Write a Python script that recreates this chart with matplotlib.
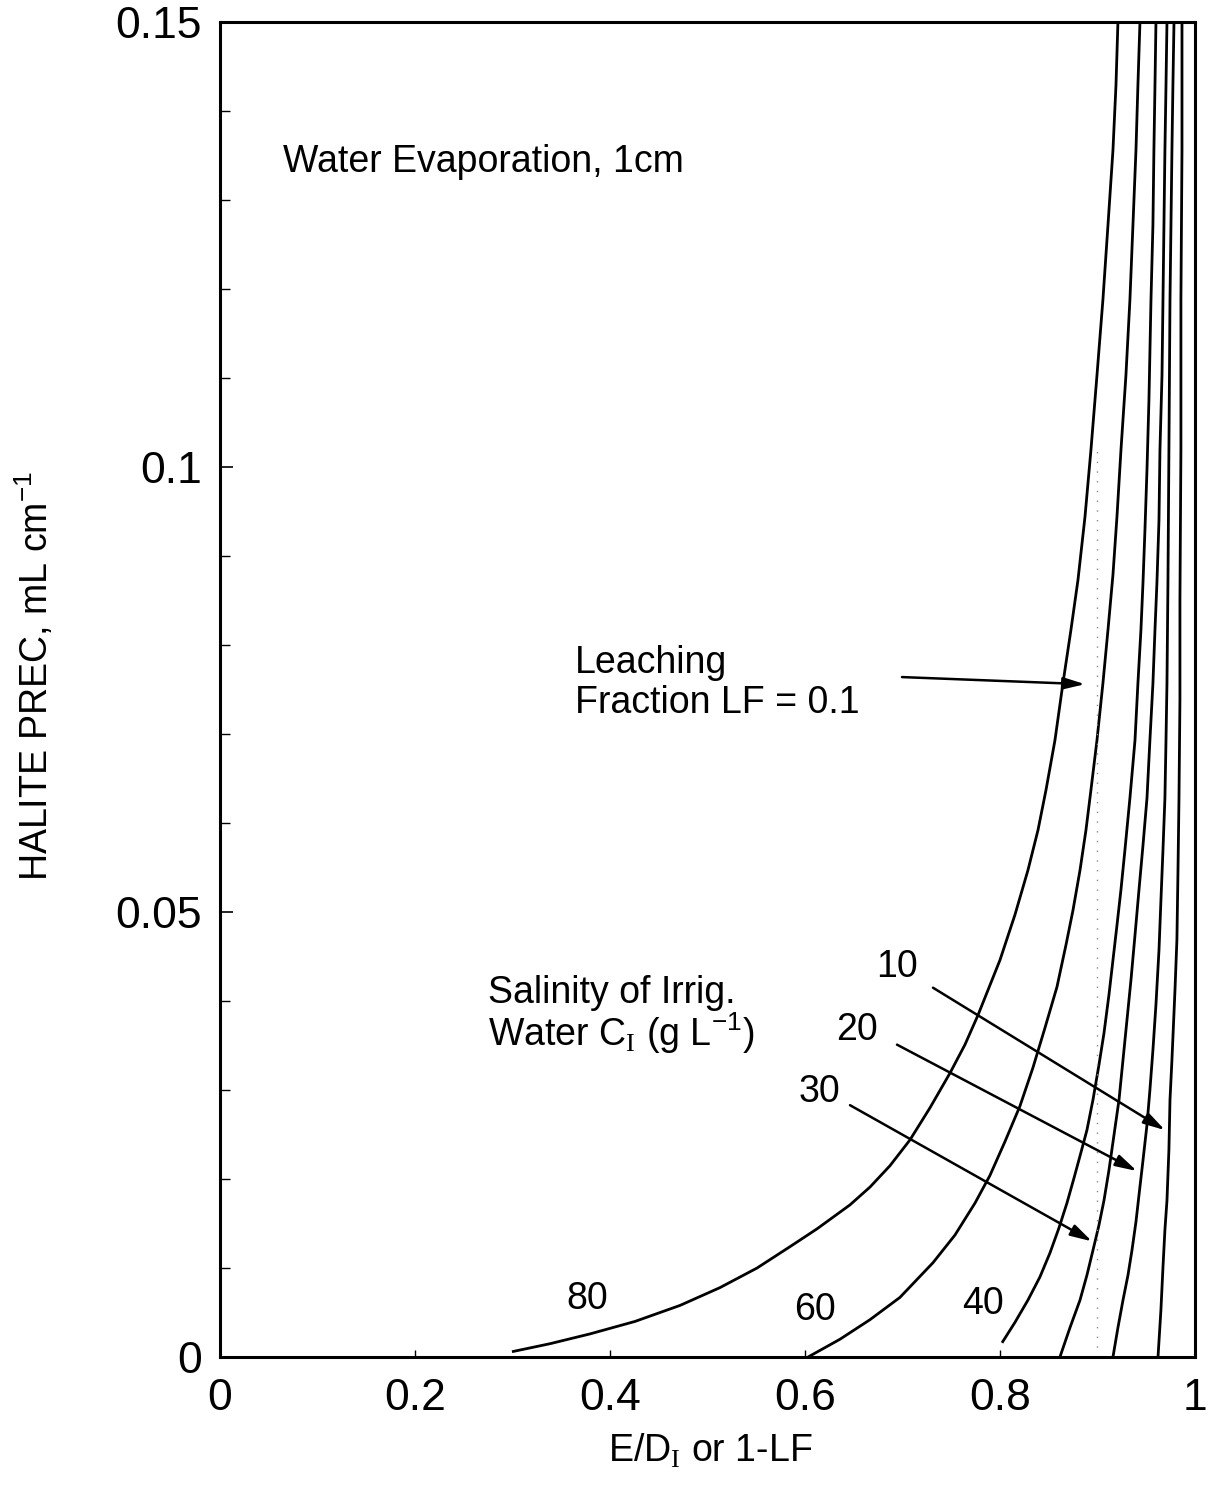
import matplotlib
matplotlib.use("Agg")
import matplotlib.pyplot as plt
import numpy as np

plt.rcParams["font.family"] = ["Liberation Sans", "DejaVu Sans"]
plt.rcParams["mathtext.fontset"] = "custom"
plt.rcParams["mathtext.rm"] = "Liberation Serif"
plt.rcParams["mathtext.sf"] = "Liberation Sans"

# Halite precipitation (mL per cm of evaporated water) versus E/D_I,
# one curve per irrigation-water salinity C_I (g/L)
salinity = [80, 60, 40, 30, 20, 10]

x_80 = [0.2995, 0.3385, 0.3795, 0.4256, 0.4718, 0.5128, 0.5508, 0.5846, 0.6123,
        0.6462, 0.6667, 0.6872, 0.7077, 0.7282, 0.7487, 0.7641, 0.7774, 0.8000,
        0.8154, 0.8287, 0.8390, 0.8472, 0.8564, 0.8646, 0.8728, 0.8800, 0.8872,
        0.8933, 0.8995, 0.9056, 0.9108, 0.9159, 0.9190, 0.9210]
y_80 = [0.0006, 0.0015, 0.0026, 0.0040, 0.0058, 0.0078, 0.0100, 0.0124, 0.0144,
        0.0171, 0.0191, 0.0215, 0.0244, 0.0280, 0.0319, 0.0351, 0.0384, 0.0446,
        0.0497, 0.0547, 0.0592, 0.0637, 0.0693, 0.0757, 0.0817, 0.0873, 0.0944,
        0.1019, 0.1103, 0.1188, 0.1272, 0.1356, 0.1429, 0.1500]

x_60 = [0.6031, 0.6359, 0.6667, 0.6974, 0.7313, 0.7538, 0.7744, 0.7897, 0.8051,
        0.8205, 0.8338, 0.8462, 0.8585, 0.8677, 0.8749, 0.8821, 0.8882, 0.8933,
        0.8995, 0.9056, 0.9108, 0.9159, 0.9200, 0.9241, 0.9292, 0.9333, 0.9364,
        0.9395, 0.9415, 0.9436]
y_60 = [0.0000, 0.0020, 0.0042, 0.0067, 0.0106, 0.0137, 0.0173, 0.0204, 0.0242,
        0.0282, 0.0325, 0.0370, 0.0416, 0.0463, 0.0502, 0.0547, 0.0592, 0.0637,
        0.0693, 0.0757, 0.0817, 0.0879, 0.0944, 0.1019, 0.1103, 0.1188, 0.1272,
        0.1356, 0.1429, 0.1500]

x_40 = [0.8021, 0.8154, 0.8287, 0.8410, 0.8513, 0.8605, 0.8687, 0.8759, 0.8831,
        0.8892, 0.8954, 0.9015, 0.9067, 0.9118, 0.9159, 0.9200, 0.9241, 0.9282,
        0.9333, 0.9385, 0.9415, 0.9446, 0.9467, 0.9487, 0.9508, 0.9528, 0.9549,
        0.9569, 0.9579, 0.9590, 0.9600]
y_40 = [0.0016, 0.0039, 0.0064, 0.0090, 0.0117, 0.0145, 0.0173, 0.0201, 0.0230,
        0.0255, 0.0289, 0.0328, 0.0364, 0.0407, 0.0446, 0.0485, 0.0525, 0.0570,
        0.0628, 0.0693, 0.0757, 0.0817, 0.0870, 0.0929, 0.0997, 0.1075, 0.1188,
        0.1272, 0.1356, 0.1429, 0.1500]

x_30 = [0.8615, 0.8718, 0.8821, 0.8892, 0.8954, 0.9015, 0.9067, 0.9118, 0.9169,
        0.9221, 0.9262, 0.9303, 0.9344, 0.9385, 0.9426, 0.9467, 0.9508, 0.9538,
        0.9569, 0.9590, 0.9610, 0.9631, 0.9641, 0.9662, 0.9672, 0.9692, 0.9703,
        0.9713]
y_30 = [0.0000, 0.0033, 0.0064, 0.0092, 0.0120, 0.0148, 0.0176, 0.0210, 0.0249,
        0.0289, 0.0334, 0.0379, 0.0424, 0.0474, 0.0525, 0.0575, 0.0628, 0.0693,
        0.0757, 0.0817, 0.0870, 0.0940, 0.1019, 0.1103, 0.1188, 0.1356, 0.1429,
        0.1500]

x_20 = [0.9159, 0.9210, 0.9262, 0.9313, 0.9354, 0.9395, 0.9426, 0.9467, 0.9508,
        0.9538, 0.9569, 0.9600, 0.9631, 0.9651, 0.9672, 0.9692, 0.9703, 0.9713,
        0.9723, 0.9733, 0.9744, 0.9764, 0.9774, 0.9785]
y_20 = [0.0000, 0.0033, 0.0064, 0.0092, 0.0120, 0.0152, 0.0182, 0.0221, 0.0261,
        0.0300, 0.0345, 0.0396, 0.0457, 0.0513, 0.0570, 0.0628, 0.0693, 0.0757,
        0.0870, 0.1019, 0.1188, 0.1356, 0.1429, 0.1500]

x_10 = [0.9621, 0.9651, 0.9672, 0.9692, 0.9713, 0.9733, 0.9744, 0.9764, 0.9795,
        0.9815, 0.9826, 0.9836, 0.9846, 0.9846, 0.9856, 0.9856, 0.9867, 0.9867]
y_10 = [0.0000, 0.0053, 0.0101, 0.0143, 0.0176, 0.0233, 0.0289, 0.0334, 0.0412,
        0.0469, 0.0547, 0.0626, 0.0738, 0.0851, 0.1019, 0.1188, 0.1356, 0.1500]

curves_x = [x_80, x_60, x_40, x_30, x_20, x_10]
curves_y = [y_80, y_60, y_40, y_30, y_20, y_10]

# Leaching fraction LF = 0.1 reference line
lf_x = 0.9
lf_ytop = 0.102

x_ticks = [0, 0.2, 0.4, 0.6, 0.8, 1.0]
x_tick_labels = ["0", "0.2", "0.4", "0.6", "0.8", "1"]
y_ticks = [0, 0.05, 0.1, 0.15]
y_tick_labels = ["0", "0.05", "0.1", "0.15"]

fig = plt.figure(figsize=(12.08, 14.88), dpi=100)
ax = fig.add_axes([0.1821, 0.0880, 0.8071, 0.8972])

for cx, cy in zip(curves_x, curves_y):
    ax.plot(cx, cy, color="black", lw=2.0, solid_capstyle="butt",
            solid_joinstyle="round")

ax.plot([lf_x, lf_x], [0, lf_ytop], color="#8a8a8a", lw=1.0, ls=(0, (1, 6)))

ax.set_xlim(0, 1)
ax.set_ylim(0, 0.15)
ax.set_xticks(x_ticks)
ax.set_xticklabels(x_tick_labels)
ax.set_yticks(y_ticks)
ax.set_yticklabels(y_tick_labels)
ax.set_yticks(np.arange(0, 0.1501, 0.01), minor=True)
ax.tick_params(axis="y", which="major", direction="in", length=9, width=1.2,
               labelsize=32, pad=13)
ax.tick_params(axis="y", which="minor", direction="in", length=7, width=1.0)
ax.tick_params(axis="x", which="major", direction="in", length=5, width=1.0,
               labelsize=32, pad=15)
for sp in ax.spines.values():
    sp.set_linewidth(2.2)

ax.set_xlabel(r"E/D$_{\mathrm{I}}$ or 1-LF", fontsize=27)
ax.xaxis.set_label_coords(0.503, -0.056)
ax.set_ylabel(r"HALITE PREC, mL cm$^{\mathsf{-1}}$", fontsize=27)
ax.yaxis.set_label_coords(-0.168, 0.51)

txt = dict(fontsize=27, color="black")
ax.text(0.0646, 0.1343, "Water Evaporation, 1cm", ha="left", va="center", **txt)
ax.text(0.3641, 0.0769, "Leaching", ha="left", va="baseline", **txt)
ax.text(0.3641, 0.0724, "Fraction LF = 0.1", ha="left", va="baseline", **txt)
ax.text(0.2749, 0.0398, "Salinity of Irrig.", ha="left", va="baseline", **txt)
ax.text(0.2749, 0.0350, r"Water C$_{\mathrm{I}}$ (g L$^{\mathsf{-1}}$)",
        ha="left", va="baseline", **txt)

label_pos = {80: (0.3764, 0.0065), 60: (0.6103, 0.0053), 40: (0.7826, 0.0060),
             30: (0.6144, 0.0298), 20: (0.6533, 0.0367), 10: (0.6944, 0.0438)}
for s in salinity:
    lx, ly = label_pos[s]
    ax.text(lx, ly, str(s), ha="center", va="center", **txt)

arrow = dict(arrowstyle="-|>,head_length=0.65,head_width=0.18", color="black",
             lw=1.8, mutation_scale=20, shrinkA=0, shrinkB=0)
for tail, tip in [((0.6995, 0.0764), (0.8872, 0.0756)),
                  ((0.7313, 0.0415), (0.9692, 0.0255)),
                  ((0.6944, 0.0351), (0.9405, 0.0209)),
                  ((0.6462, 0.0283), (0.8944, 0.0130))]:
    ax.annotate("", xy=tip, xytext=tail, arrowprops=arrow)

fig.savefig("out.png", dpi=100, facecolor="white")
